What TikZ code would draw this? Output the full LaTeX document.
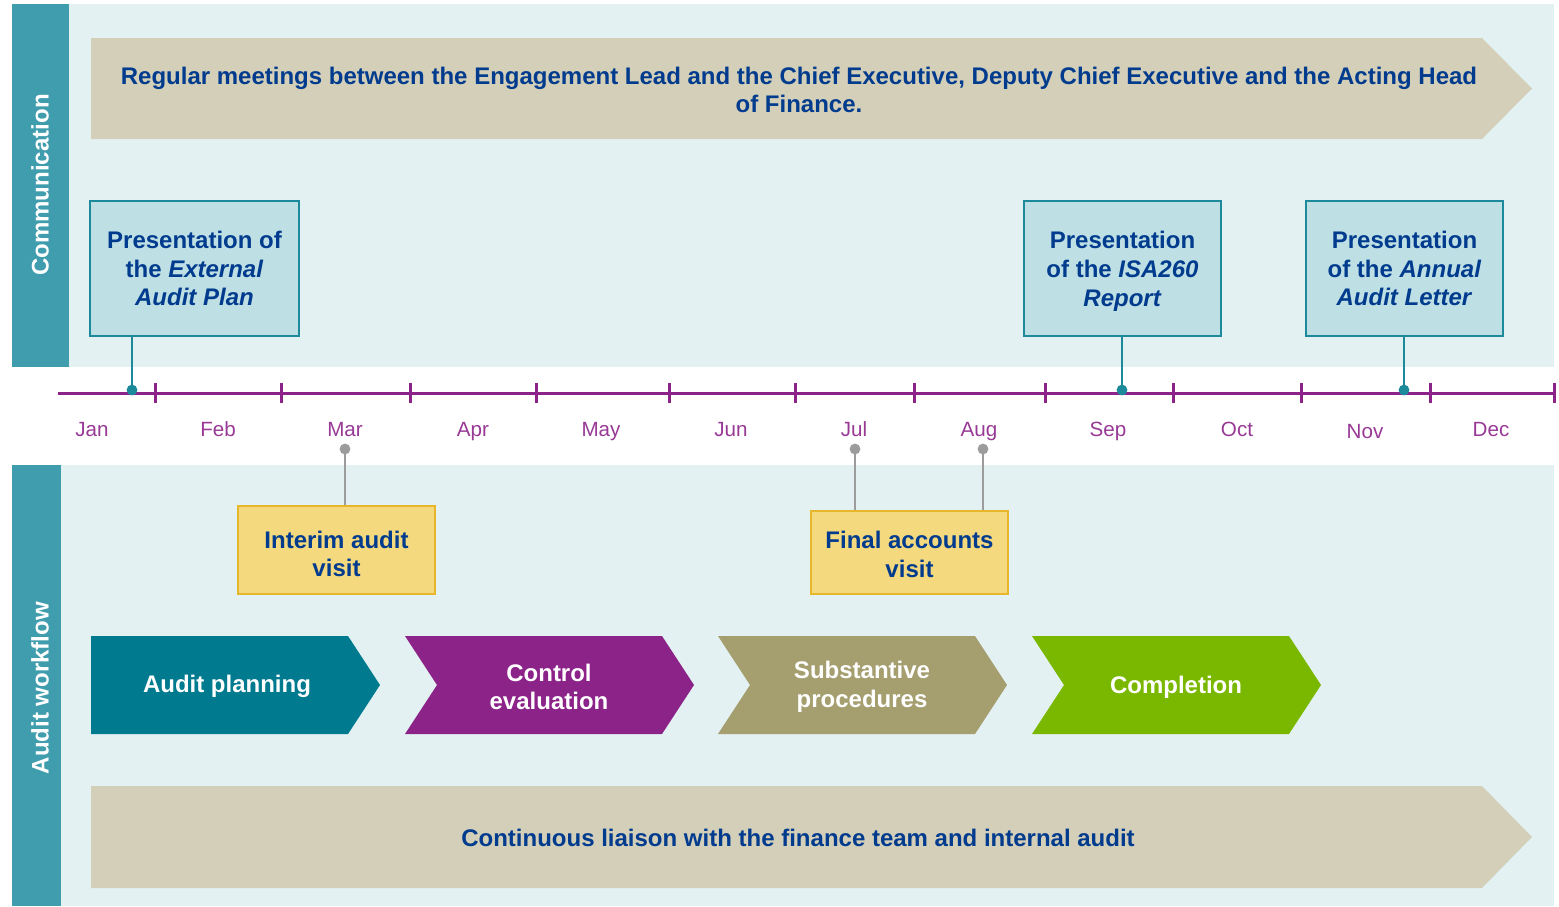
\documentclass[tikz,border=0pt]{standalone}
\usepackage{fontspec}
\setmainfont{Liberation Sans}
\usetikzlibrary{positioning}
\definecolor{sidebar}{HTML}{409DAD}
\definecolor{panel}{HTML}{E3F1F3}
\definecolor{tan}{HTML}{D4CFB9}
\definecolor{navy}{HTML}{003B8E}
\definecolor{boxblue}{HTML}{BEDFE4}
\definecolor{boxedge}{HTML}{1C8A9A}
\definecolor{plum}{HTML}{8B2389}
\definecolor{yel}{HTML}{F5D97E}
\definecolor{yeledge}{HTML}{E8B62A}
\definecolor{tealdark}{HTML}{007A8E}
\definecolor{olive}{HTML}{A59E6F}
\definecolor{lime}{HTML}{7AB800}
\definecolor{pingray}{HTML}{9C9C9C}
\tikzset{
  side/.style={rotate=90, text=white, font=\bfseries\fontsize{12}{14}\selectfont},
  banner/.style={text=navy, align=center},
  present/.style={draw=boxedge, fill=boxblue, line width=0.6pt, text=navy, align=center,
    minimum width=98.5pt, minimum height=67.5pt, inner sep=0pt},
  visit/.style={draw=yeledge, fill=yel, line width=0.6pt,
    minimum width=98.5pt, inner sep=0pt},
  visittext/.style={text=navy, align=center},
  month/.style={text=plum!90!white, font=\fontsize{10.3}{12}\selectfont,
    text height=1.6ex, text depth=0.5ex},
  stem/.style={draw=boxedge, line width=1.3pt},
  graystem/.style={draw=pingray, line width=1.4pt},
  phase/.style={text=white, align=center}
}
\begin{document}
\begin{tikzpicture}[x=0.5pt, y=-0.5pt, font=\bfseries\fontsize{12}{14.4}\selectfont]
\useasboundingbox (0,0) rectangle (1559,906);
% panels
\fill[panel] (12,4) rectangle (1554,367);
\fill[sidebar] (12,4) rectangle (69,367);
\fill[panel] (12,465) rectangle (1554,906);
\fill[sidebar] (12,465) rectangle (61,906);
\node[side] (comm) at (40,185) {Communication};
\node[side] (flow) at (40,688) {Audit workflow};

% long arrows
\fill[tan] (91,38) -- (1482,38) -- (1532,88.5) -- (1482,139) -- (91,139) -- cycle;
\node[banner] (meet) at (799,90) {Regular meetings between the Engagement Lead and the Chief Executive, Deputy Chief Executive and the Acting Head\\of Finance.};
\fill[tan] (91,786) -- (1482,786) -- (1532,837) -- (1482,888) -- (91,888) -- cycle;
\node[banner] (liaise) at (798,838) {Continuous liaison with the finance team and internal audit};

% timeline
\draw[plum, line width=1.5pt] (58,393) -- (1554,393);
\foreach \t in {155,281,410,536,669,795,914,1045,1173,1301,1430,1554}
  \draw[plum, line width=1.5pt] (\t,383) -- (\t,403);
\foreach \m/\x/\y in {Jan/92/431, Feb/218/431, Mar/345/431, Apr/473/431, May/601/431,
    Jun/731/431, Jul/854/431, Aug/979/431, Sep/1108/431, Oct/1237/431, Nov/1365/433, Dec/1491/431}
  \node[month] (m\m) at (\x,\y) {\m};

% presentations
\node[present, minimum width=104.5pt] (plan) at (194.5,268.5) {Presentation of\\the \textit{External}\\\textit{Audit Plan}};
\node[present] (isa) at (1122.5,268.5) {Presentation\\of the \textit{ISA260}\\\smash{\textit{Report}}};
\node[present] (letter) at (1404.5,268.5) {Presentation\\of the \textit{Annual}\\\textit{Audit Letter}};
\coordinate (d1) at (132,390);
\coordinate (d2) at (1122,390);
\coordinate (d3) at (1404,390);
\foreach \b/\d in {plan/d1, isa/d2, letter/d3} {
  \draw[stem] (\b.south -| \d) -- (\d);
  \fill[boxedge] (\d) circle (2.7pt);
}

% visits
\node[visit, minimum height=44pt] (interim) at (336.5,550) {};
\node[visittext] (interimtxt) at ([yshift=-2pt]interim.center) {Interim audit\\visit};
\node[visit, minimum height=41.5pt] (final) at (909.5,552.5) {};
\node[visittext] (finaltxt) at ([yshift=-1pt]final.center) {Final accounts\\visit};
\coordinate (g1) at (345,449);
\coordinate (g2) at (855,449);
\coordinate (g3) at (983,449);
\foreach \b/\g in {interim/g1, final/g2, final/g3} {
  \draw[graystem] (\g) -- (\b.north -| \g);
  \fill[pingray] (\g) circle (2.7pt);
}

% workflow chevrons
\fill[tealdark] (91,636) -- (348,636) -- (380,685) -- (348,734) -- (91,734) -- cycle;
\node[phase] (ch1) at (227,686) {Audit planning};
\foreach \s/\c/\n/\txt in {405/plum/ch2/{Control\\evaluation}, 718/olive/ch3/{Substantive\\procedures}, 1032/lime/ch4/{Completion}} {
  \fill[\c] (\s,636) -- (\s+257,636) -- (\s+289,685) -- (\s+257,734) -- (\s,734) -- (\s+32,685) -- cycle;
  \node[phase] (\n) at (\s+144,687) {\txt};
}
\end{tikzpicture}
\end{document}
